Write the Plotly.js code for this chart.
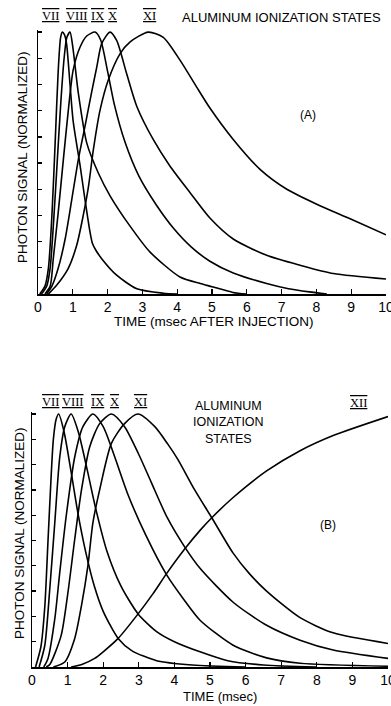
<!DOCTYPE html>
<html>
<head>
<meta charset="utf-8">
<script src="https://cdn.plot.ly/plotly-3.0.1.min.js"></script>
<style>html,body{margin:0;padding:0;background:#fff;}#chart{width:391px;height:706px;}</style>
</head>
<body>
<div id="chart"></div>
<script>
// ---- Panel (A): time (msec after injection) and normalized photon signal ----
var tA_VII = [0.05,0.2,0.3,0.4,0.5,0.58,0.65,0.70,0.76,0.82,0.92,1.01,1.21,1.35,1.49,1.56,1.65,1.83,2.26,2.84,3.6,4.0];
var vA_VII = [0,0.03,0.1,0.3,0.6,0.85,0.98,1.0,0.99,0.956,0.80,0.66,0.49,0.36,0.24,0.195,0.17,0.135,0.072,0.02,0.003,0];
var tA_VIII = [0.1,0.25,0.35,0.45,0.55,0.65,0.75,0.83,0.92,1.0,1.16,1.40,1.73,2.07,2.64,3.22,4.08,4.66,5.0,5.6,6.0];
var vA_VIII = [0,0.03,0.1,0.28,0.5,0.72,0.9,0.98,1.0,0.943,0.766,0.577,0.463,0.375,0.26,0.16,0.065,0.04,0.028,0.006,0];
var tA_IX = [0.2,0.35,0.44,0.58,0.73,0.87,1.01,1.21,1.4,1.64,1.8,2.0,2.2,2.5,2.9,3.4,3.9,4.4,4.94,5.61,6.57,7.2,7.8,8.3];
var vA_IX = [0,0.03,0.136,0.31,0.515,0.70,0.855,0.943,0.985,1.0,0.97,0.85,0.72,0.58,0.45,0.34,0.25,0.18,0.125,0.08,0.04,0.02,0.008,0];
var tA_X = [0.25,0.4,0.58,0.78,0.97,1.16,1.35,1.54,1.69,1.83,2.07,2.26,2.55,2.84,3.31,3.79,4.37,4.94,5.61,6.57,7.53,8.49,10];
var vA_X = [0,0.03,0.098,0.21,0.36,0.514,0.64,0.77,0.867,0.956,1.0,0.968,0.84,0.716,0.59,0.489,0.387,0.29,0.21,0.148,0.11,0.078,0.057];
var tA_XI = [0.3,0.54,0.87,1.11,1.30,1.45,1.59,1.78,2.02,2.36,2.64,3.17,3.6,4.08,4.56,4.94,5.61,6.38,7.15,8.01,8.97,10];
var vA_XI = [0,0.034,0.098,0.185,0.30,0.41,0.55,0.70,0.817,0.918,0.962,1.0,0.98,0.893,0.79,0.71,0.59,0.476,0.40,0.343,0.287,0.226];

// ---- Panel (B): time (msec) and normalized photon signal ----
var tB_VII = [0.1,0.25,0.36,0.45,0.54,0.6,0.68,0.75,0.9,1.1,1.3,1.5,1.75,2.0,2.42,2.8,3.5,4.5,6];
var vB_VII = [0,0.08,0.24,0.5,0.76,0.9,0.98,1.0,0.93,0.77,0.60,0.46,0.32,0.22,0.113,0.065,0.025,0.008,0];
var tB_VIII = [0.2,0.36,0.5,0.64,0.78,0.92,1.1,1.3,1.55,1.8,2.1,2.5,2.98,3.5,4.0,4.72,5.5,6.5,8];
var vB_VIII = [0,0.086,0.31,0.57,0.83,0.95,1.0,0.93,0.78,0.62,0.46,0.32,0.21,0.14,0.10,0.06,0.025,0.008,0];
var tB_IX = [0.33,0.45,0.64,0.78,0.96,1.2,1.43,1.71,2.0,2.3,2.7,3.2,3.77,4.3,4.72,5.65,6.59,7.53,10];
var vB_IX = [0,0.034,0.19,0.374,0.596,0.83,0.95,1.0,0.95,0.84,0.68,0.52,0.367,0.26,0.185,0.086,0.036,0.015,0.003];
var tB_X = [0.4,0.5,0.82,1.01,1.2,1.39,1.62,1.9,2.23,2.6,3.0,3.35,3.8,4.31,4.72,5.65,6.59,7.53,8.46,10];
var vB_X = [0,0.01,0.125,0.295,0.505,0.70,0.87,0.962,1.0,0.95,0.84,0.73,0.59,0.47,0.39,0.256,0.165,0.106,0.067,0.034];
var tB_XI = [0.6,0.92,1.2,1.39,1.57,1.71,1.9,2.23,2.6,2.98,3.45,3.82,4.1,4.57,5.05,5.65,6.1,6.59,7.53,8.46,10];
var vB_XI = [0,0.02,0.113,0.243,0.40,0.57,0.70,0.884,0.962,1.0,0.95,0.88,0.82,0.70,0.59,0.45,0.37,0.30,0.195,0.135,0.093];
var tB_XII = [1.1,1.4,1.76,2.0,2.42,2.98,3.4,3.77,4.31,4.72,5.05,5.65,6.59,7.53,8.46,10];
var vB_XII = [0,0.01,0.034,0.06,0.113,0.21,0.29,0.367,0.47,0.54,0.59,0.67,0.775,0.855,0.915,0.99];

var xTicks = [0,1,2,3,4,5,6,7,8,9,10];
var xTickText = ["0","1","2","3","4","5","6","7","8","9","10"];
var yTicks = [0,0.1,0.2,0.3,0.4,0.5,0.6,0.7,0.8,0.9,1.0];

function curve(t, v, xa, ya, name) {
  return {x: t, y: v, xaxis: xa, yaxis: ya, name: name, type: 'scatter', mode: 'lines',
          line: {color: '#000', width: 1.6, shape: 'spline', smoothing: 0.7},
          hoverinfo: 'skip', showlegend: false};
}

var data = [
  curve(tA_VII, vA_VII, 'x', 'y', 'VII'),
  curve(tA_VIII, vA_VIII, 'x', 'y', 'VIII'),
  curve(tA_IX, vA_IX, 'x', 'y', 'IX'),
  curve(tA_X, vA_X, 'x', 'y', 'X'),
  curve(tA_XI, vA_XI, 'x', 'y', 'XI'),
  curve(tB_VII, vB_VII, 'x2', 'y2', 'VII'),
  curve(tB_VIII, vB_VIII, 'x2', 'y2', 'VIII'),
  curve(tB_IX, vB_IX, 'x2', 'y2', 'IX'),
  curve(tB_X, vB_X, 'x2', 'y2', 'X'),
  curve(tB_XI, vB_XI, 'x2', 'y2', 'XI'),
  curve(tB_XII, vB_XII, 'x2', 'y2', 'XII')
];

var W = 391, H = 706;
var FONT = 'Liberation Sans, Arial, sans-serif';
function xax(domain, anchor) {
  return {domain: domain, anchor: anchor, range: [0, 10], tickvals: xTicks, ticktext: xTickText,
          ticks: 'inside', ticklen: 5, tickwidth: 1.3, tickcolor: '#000',
          showline: true, linecolor: '#000', linewidth: 1.5, showgrid: false, zeroline: false,
          ticklabeloverflow: 'allow',
          tickfont: {family: FONT, size: 14, color: '#000'}, fixedrange: true};
}
function yax(domain, anchor) {
  return {domain: domain, anchor: anchor, range: [0, 1.008], tickvals: yTicks,
          ticks: 'inside', ticklen: 4, tickwidth: 1.3, tickcolor: '#000',
          showline: true, linecolor: '#000', linewidth: 1.5, showgrid: false, zeroline: false,
          showticklabels: false, fixedrange: true};
}
function px(x) { return x / W; }
function py(y) { return 1 - y / H; }
function ann(text, x, y, size, extra) {
  var a = {text: text, x: px(x), y: py(y), xref: 'paper', yref: 'paper', showarrow: false,
           xanchor: 'center', yanchor: 'middle', font: {family: FONT, size: size, color: '#000'}};
  if (extra) for (var k in extra) a[k] = extra[k];
  return a;
}
var ROMAN = 'Liberation Serif, Times New Roman, serif';
function rom(text, x, y) {
  return ann('<span style="text-decoration:overline"><u>' + text + '</u></span>', x, y, 12.5,
             {font: {family: ROMAN, size: 12.5, color: '#000'}});
}

var layout = {
  width: W, height: H,
  margin: {l: 0, r: 0, t: 0, b: 0},
  paper_bgcolor: '#fff', plot_bgcolor: '#fff',
  showlegend: false,
  xaxis: xax([px(38), px(386)], 'y'),
  yaxis: yax([py(294), py(30)], 'x'),
  xaxis2: xax([px(32), px(388)], 'y2'),
  yaxis2: yax([py(667), py(412)], 'x2'),
  annotations: [
    rom('VII', 50, 16), rom('VIII', 77, 16), rom('IX', 97, 16), rom('X', 113, 16), rom('XI', 149, 16),
    ann('ALUMINUM IONIZATION STATES', 281, 17, 13),
    ann('(A)', 308, 115, 12),
    ann('TIME (msec AFTER INJECTION)', 214, 322, 13.5),
    ann('PHOTON SIGNAL (NORMALIZED)', 22, 157, 13.5, {textangle: -90}),
    rom('VII', 50, 402), rom('VIII', 73, 402), rom('IX', 97, 402), rom('X', 114, 402), rom('XI', 140, 402),
    rom('XII', 358, 403),
    ann('ALUMINUM<br>IONIZATION<br>STATES', 228, 422, 12.5),
    ann('(B)', 328, 525, 12),
    ann('TIME (msec)', 220, 696, 13),
    ann('PHOTON SIGNAL (NORMALIZED)', 19, 533, 13.5, {textangle: -90})
  ]
};

Plotly.newPlot('chart', data, layout, {displayModeBar: false, staticPlot: true});
</script>
</body>
</html>
